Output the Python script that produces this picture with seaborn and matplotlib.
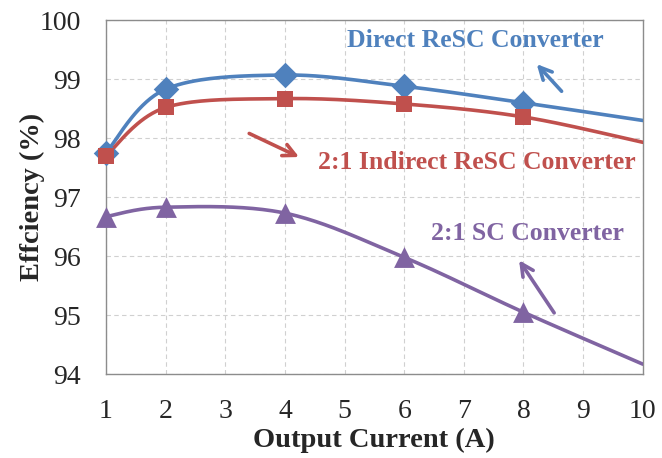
import numpy as np
import pandas as pd
import matplotlib
matplotlib.use("Agg")
import matplotlib.pyplot as plt
import seaborn as sns

# values
current = [1, 2, 4, 6, 8, 10]
direct_resc = [97.75, 98.83, 99.07, 98.88, 98.60, 98.30]
indirect_resc = [97.70, 98.52, 98.67, 98.58, 98.36, 97.93]
sc_conv = [96.67, 96.83, 96.73, 95.98, 95.05, 94.17]

BLUE = "#4F81BD"
RED = "#C0504D"
PURPLE = "#8064A2"


def smooth(xs, ys, n=40):
    # Excel-style smoothed line: cubic bezier between points, tension 1/6
    p = np.column_stack([xs, ys]).astype(float)
    pts = np.vstack([p[0], p, p[-1]])
    out = []
    for i in range(1, len(pts) - 2):
        p0, p1, p2, p3 = pts[i - 1], pts[i], pts[i + 1], pts[i + 2]
        c1 = p1 + (p2 - p0) / 6
        c2 = p2 - (p3 - p1) / 6
        t = np.linspace(0, 1, n)[:, None]
        seg = ((1 - t) ** 3) * p1 + 3 * ((1 - t) ** 2) * t * c1 + 3 * (1 - t) * t ** 2 * c2 + t ** 3 * p2
        out.append(seg)
    out = np.vstack(out)
    return pd.DataFrame({"x": out[:, 0], "y": out[:, 1]})


sns.set_style("white")
plt.rcParams["font.family"] = ["Liberation Serif", "DejaVu Serif"]

fig = plt.figure(figsize=(6.62, 4.58), dpi=100)
ax = fig.add_axes([0.160, 0.183, 0.811, 0.773])

series = [
    (direct_resc, BLUE, "D", 13),
    (indirect_resc, RED, "s", 12),
    (sc_conv, PURPLE, "^", 15),
]
for vals, col, mk, ms in series:
    curve = smooth(current, vals)
    sns.lineplot(data=curve, x="x", y="y", sort=False, color=col, linewidth=2.6, ax=ax, zorder=3)
    pts = pd.DataFrame({"x": current[:-1], "y": vals[:-1]})
    sns.scatterplot(data=pts, x="x", y="y", marker=mk, s=ms ** 2, color=col,
                    edgecolor=col, linewidth=0, ax=ax, zorder=4, clip_on=False)

ax.set_xlim(1, 10)
ax.set_ylim(94, 100)
ax.set_xticks(range(1, 11))
ax.set_yticks(range(94, 101))
ax.grid(True, color="#d0d0d0", linestyle=(0, (4, 3)), linewidth=0.8)
for s in ax.spines.values():
    s.set_color("#8c8c8c")
    s.set_linewidth(1.0)
ax.tick_params(axis="x", length=0, labelsize=20, pad=18)
ax.tick_params(axis="y", length=0, labelsize=20, pad=18)
ax.set_xlabel("Output Current (A)", fontsize=20.5, fontweight="bold")
ax.set_ylabel("Effciency (%)", fontsize=20.5, fontweight="bold")
ax.xaxis.set_label_coords(0.5, -0.188)
ax.xaxis.label.set_va("center")
ax.yaxis.set_label_coords(-0.136, 0.5)
ax.yaxis.label.set_va("center")

# annotations
ax.text(7.2, 99.66, "Direct ReSC Converter", color=BLUE, fontsize=18.5,
        fontweight="bold", ha="center", va="center")
ax.annotate("", xy=(8.19, 99.29), xytext=(8.67, 98.76),
            arrowprops=dict(arrowstyle="->", color=BLUE, lw=2.6, mutation_scale=22))
ax.text(7.22, 97.58, "2:1 Indirect ReSC Converter", color=RED, fontsize=18.5,
        fontweight="bold", ha="center", va="center")
ax.annotate("", xy=(4.28, 97.66), xytext=(3.36, 98.10),
            arrowprops=dict(arrowstyle="->", color=RED, lw=2.6, mutation_scale=22))
ax.text(8.06, 96.39, "2:1 SC Converter", color=PURPLE, fontsize=18.5,
        fontweight="bold", ha="center", va="center")
ax.annotate("", xy=(7.90, 95.97), xytext=(8.54, 95.0),
            arrowprops=dict(arrowstyle="->", color=PURPLE, lw=2.6, mutation_scale=22))

fig.savefig("out.png", dpi=100)
